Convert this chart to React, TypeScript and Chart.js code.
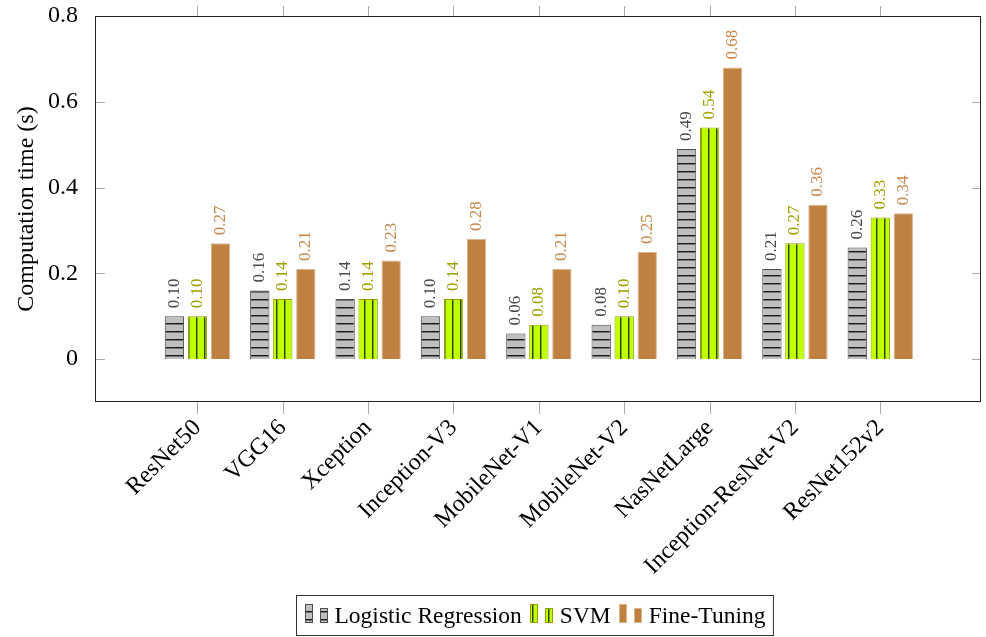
import React, { useEffect, useRef } from "react";
import { Chart, registerables } from "chart.js";

Chart.register(...registerables);

// ---------- data ----------
const categories = [
  "ResNet50",
  "VGG16",
  "Xception",
  "Inception-V3",
  "MobileNet-V1",
  "MobileNet-V2",
  "NasNetLarge",
  "Inception-ResNet-V2",
  "ResNet152v2",
];
const logisticRegression = [0.1, 0.16, 0.14, 0.1, 0.06, 0.08, 0.49, 0.21, 0.26];
const svm = [0.1, 0.14, 0.14, 0.14, 0.08, 0.1, 0.54, 0.27, 0.33];
const fineTuning = [0.27, 0.21, 0.23, 0.28, 0.21, 0.25, 0.68, 0.36, 0.34];
const seriesNames = ["Logistic Regression", "SVM", "Fine-Tuning"];
const yTickValues = [0, 0.2, 0.4, 0.6, 0.8];
const yAxisTitle = "Computation time (s)";

const FONT = '"Liberation Serif", "Times New Roman", serif';

function makePattern(ctx: CanvasRenderingContext2D, kind: "h" | "v", bg: string, line: string) {
  const c = document.createElement("canvas");
  c.width = 8;
  c.height = 8;
  const g = c.getContext("2d")!;
  g.fillStyle = bg;
  g.fillRect(0, 0, 8, 8);
  g.fillStyle = line;
  if (kind === "h") {
    g.fillRect(0, 3, 8, 1);
    g.globalAlpha = 0.45;
    g.fillRect(0, 4, 8, 1);
  } else {
    g.fillRect(4, 0, 1, 8);
    g.globalAlpha = 0.45;
    g.fillRect(5, 0, 1, 8);
  }
  return ctx.createPattern(c, "repeat")!;
}

export default function App() {
  const canvasRef = useRef<HTMLCanvasElement | null>(null);

  useEffect(() => {
    document.body.style.margin = "0";
    document.body.style.overflow = "hidden";
    const canvas = canvasRef.current!;
    const ctx0 = canvas.getContext("2d")!;

    const grayPat = makePattern(ctx0, "h", "#bfbfbf", "#1a1a1a");
    const greenPat = makePattern(ctx0, "v", "#bfff00", "#2b4400");
    const fills: any[] = [grayPat, greenPat, "#bf8040"];
    const borders = ["#4d4d4d", "#9a9a00", "#dcb48e"];
    const labelColors = ["#4a4a4a", "#a0a000", "#c8874a"];
    const seriesValues = [logisticRegression, svm, fineTuning];

    const valueLabels = {
      id: "valueLabels",
      afterDatasetsDraw(chart: any) {
        const ctx = chart.ctx;
        chart.data.datasets.forEach((_ds: any, di: number) => {
          const meta = chart.getDatasetMeta(di);
          meta.data.forEach((el: any, i: number) => {
            const v = seriesValues[di][i];
            ctx.save();
            ctx.translate(el.x, el.y - 8);
            ctx.rotate(-Math.PI / 2);
            ctx.font = "17px " + FONT;
            ctx.fillStyle = labelColors[di];
            ctx.textAlign = "left";
            ctx.textBaseline = "middle";
            ctx.fillText(v.toFixed(2), 0, 0);
            ctx.restore();
          });
        });
      },
    };

    const frame = {
      id: "frame",
      afterDraw(chart: any) {
        const ctx = chart.ctx;
        const { left, right, top, bottom } = chart.chartArea;
        const xs = chart.scales.x;
        const ys = chart.scales.y;
        ctx.save();
        // ticks
        ctx.strokeStyle = "#aaaaaa";
        ctx.lineWidth = 1;
        ctx.beginPath();
        categories.forEach((_c, i) => {
          const px = Math.round(xs.getPixelForValue(i)) + 0.5;
          ctx.moveTo(px, top - 10);
          ctx.lineTo(px, top);
          ctx.moveTo(px, bottom);
          ctx.lineTo(px, bottom + 12);
        });
        yTickValues.forEach((v) => {
          const py = Math.round(ys.getPixelForValue(v)) + 0.5;
          ctx.moveTo(left, py);
          ctx.lineTo(left + 10, py);
          ctx.moveTo(right - 9, py);
          ctx.lineTo(right, py);
        });
        ctx.stroke();
        // frame
        ctx.strokeStyle = "#222222";
        ctx.lineWidth = 1;
        ctx.strokeRect(left + 0.5, top + 0.5, right - left - 1, bottom - top - 1);

        // legend
        ctx.font = "23.5px " + FONT;
        const pad = 8;
        const iconW = 24;
        const iconGap = 6;
        const itemGap = 8;
        const widths = seriesNames.map((n) => ctx.measureText(n).width);
        let total = pad * 2;
        widths.forEach((w, i) => {
          total += iconW + iconGap + w + (i < widths.length - 1 ? itemGap : 0);
        });
        const cx = (left + right) / 2 - 4;
        const bx = Math.round(cx - total / 2) + 0.5;
        const by = 595.5;
        const bh = 40;
        ctx.fillStyle = "#ffffff";
        ctx.fillRect(bx, by, total, bh);
        ctx.strokeStyle = "#333333";
        ctx.strokeRect(bx, by, total, bh);
        let x = bx + pad;
        const base = 623;
        seriesNames.forEach((name, i) => {
          const ix = Math.round(x);
          ctx.fillStyle = fills[i];
          ctx.strokeStyle = borders[i];
          ctx.lineWidth = 1;
          ctx.fillRect(ix, base - 19, 8, 19);
          ctx.strokeRect(ix + 0.5, base - 19 + 0.5, 7, 18);
          ctx.fillRect(ix + 15, base - 15, 8, 15);
          ctx.strokeRect(ix + 15.5, base - 15 + 0.5, 7, 14);
          x += iconW + iconGap;
          ctx.fillStyle = "#000000";
          ctx.textAlign = "left";
          ctx.textBaseline = "alphabetic";
          ctx.fillText(name, x, base);
          x += widths[i] + itemGap;
        });
        ctx.restore();
      },
    };

    const mk = (vals: number[]) => vals.map((v, i) => ({ x: i, y: v }));

    const chart = new Chart(canvas, {
      type: "bar",
      data: {
        datasets: [logisticRegression, svm, fineTuning].map((vals, i) => ({
          label: seriesNames[i],
          data: mk(vals),
          backgroundColor: fills[i],
          borderColor: borders[i],
          borderWidth: 1,
          barPercentage: 0.84,
          categoryPercentage: 0.809,
        })),
      },
      options: {
        animation: false,
        responsive: true,
        maintainAspectRatio: false,
        layout: { padding: { top: 16, right: 5, left: 0, bottom: 0 } },
        plugins: {
          legend: { display: false },
          tooltip: { enabled: false },
        },
        scales: {
          x: {
            type: "linear",
            offset: false,
            min: -1.2,
            max: 9.18,
            grid: { display: false, offset: false },
            border: { display: false },
            afterBuildTicks: (scale: any) => {
              scale.ticks = categories.map((_c, i) => ({ value: i }));
            },
            afterFit: (scale: any) => {
              scale.height = 235;
              scale.paddingLeft = 0;
              scale.paddingRight = 0;
            },
            ticks: {
              autoSkip: false,
              minRotation: 45,
              maxRotation: 45,
              padding: 4,
              color: "#000000",
              font: { family: FONT, size: 24 },
              callback: (v: any) => categories[Math.round(Number(v))] ?? "",
            },
          },
          y: {
            type: "linear",
            min: -0.1,
            max: 0.8,
            grid: { display: false },
            border: { display: false },
            afterBuildTicks: (scale: any) => {
              scale.ticks = yTickValues.map((v) => ({ value: v }));
            },
            afterFit: (scale: any) => {
              scale.width = 95;
              scale.paddingTop = 0;
              scale.paddingBottom = 0;
            },
            ticks: {
              padding: 9,
              color: "#000000",
              font: { family: FONT, size: 24 },
              callback: (v: any) => (Number(v) === 0 ? "0" : Number(v).toFixed(1)),
            },
            title: {
              display: true,
              text: yAxisTitle,
              color: "#000000",
              font: { family: FONT, size: 24 },
              padding: { top: 12, bottom: 0 },
            },
          },
        },
      },
      plugins: [valueLabels, frame],
    } as any);

    return () => chart.destroy();
  }, []);

  return (
    <div style={{ width: "986px", height: "637px", position: "relative" }}>
      <canvas ref={canvasRef} />
    </div>
  );
}
